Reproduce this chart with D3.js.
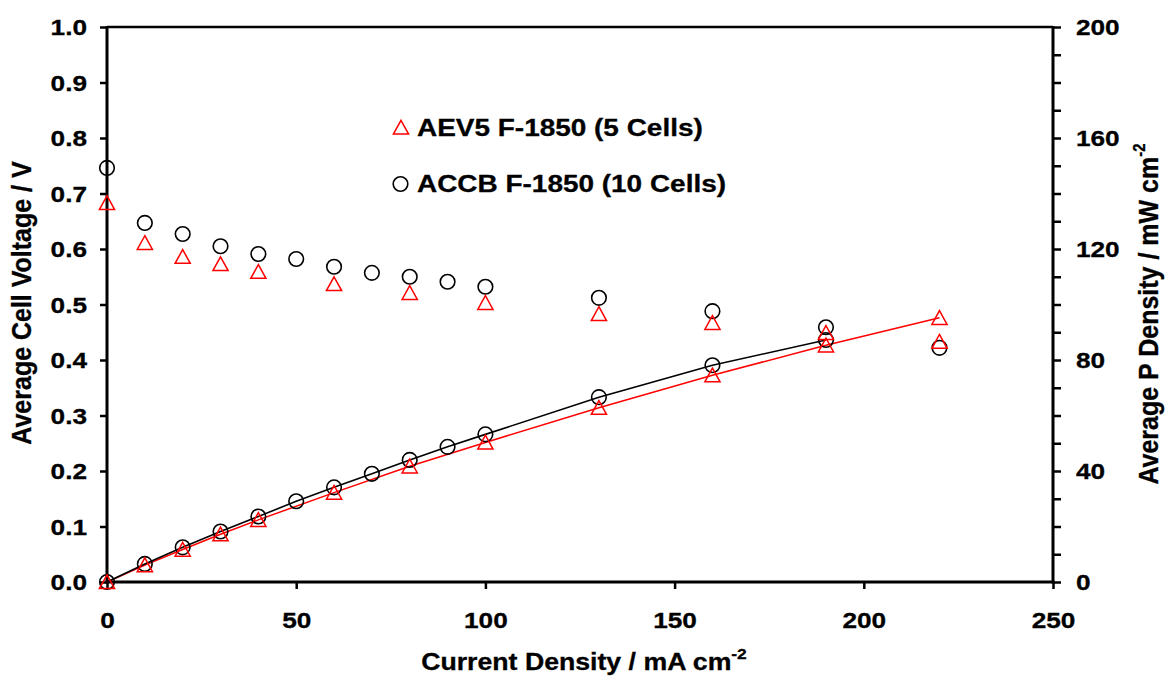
<!DOCTYPE html>
<html><head><meta charset="utf-8">
<script src="https://cdn.jsdelivr.net/npm/d3@7"></script>
<style>
body{margin:0;background:#fff;}
text{font-family:"Liberation Sans",Arial,sans-serif;font-weight:bold;fill:#000;}
</style></head>
<body><svg id="chart" width="1169" height="682"></svg>
<script>
// ---- data ----
const currentA = [0,10,20,30,40,60,80,100,130,160,190,220];
const voltA    = [0.683,0.611,0.586,0.573,0.559,0.537,0.521,0.503,0.483,0.467,0.449,0.433];
const powerA   = [0,6.1,11.7,17.2,22.4,32.2,41.7,50.3,62.8,74.5,85.3,95.2];
const currentB = [0,10,20,30,40,50,60,70,80,90,100,130,160,190,220];
const voltB    = [0.746,0.647,0.627,0.605,0.591,0.582,0.568,0.557,0.550,0.541,0.532,0.512,0.488,0.459,0.422];
const currentBP= [0,10,20,30,40,50,60,70,80,90,100,130,160,190];
const powerB   = [0,6.5,12.5,18.2,23.6,29.1,34.1,39.0,44.0,48.7,53.2,66.6,78.1,87.2];
const xTicks = [0,50,100,150,200,250];
const yTicks = [0,0.1,0.2,0.3,0.4,0.5,0.6,0.7,0.8,0.9,1.0];
const pTicks = d3.range(0,201,10);
const pLabels = [0,40,80,120,160,200];
const seriesNames = ["AEV5 F-1850 (5 Cells)","ACCB F-1850 (10 Cells)"];

const svg = d3.select("#chart");
svg.append("rect").attr("width",1169).attr("height",682).attr("fill","#fff");
const L=107,R=1053,T=27,B=582, SX=1.19;
const x = d3.scaleLinear([0,250],[L,R]);
const yV = d3.scaleLinear([0,1],[B,T]);
const yP = d3.scaleLinear([0,200],[B,T]);

function styleTicks(g){ g.select(".domain").remove(); g.selectAll(".tick line").attr("stroke","#000").attr("stroke-width",2.5);
  g.selectAll(".tick text").attr("font-size",22).attr("font-weight","bold").attr("font-family","Liberation Sans, Arial, sans-serif").attr("fill","#000").attr("stroke","#000").attr("stroke-width",0.3); }

// left axis
const gl = svg.append("g").attr("transform",`translate(${L},0)`)
  .call(d3.axisLeft(yV).tickValues(yTicks).tickSize(7).tickSizeOuter(0).tickFormat(d3.format(".1f")));
styleTicks(gl);
gl.selectAll(".tick text").attr("x",-20/SX).attr("dy","0.36em").attr("transform",`scale(${SX},1)`);

// bottom axis
const gb = svg.append("g").attr("transform",`translate(0,${B})`)
  .call(d3.axisBottom(x).tickValues(xTicks).tickSize(7).tickSizeOuter(0).tickFormat(d3.format("d")));
styleTicks(gb);
gb.selectAll(".tick text").attr("y",46).attr("dy",0).attr("transform",`scale(${SX},1)`);

// right axis
const gr = svg.append("g").attr("transform",`translate(${R},0)`)
  .call(d3.axisRight(yP).tickValues(pTicks).tickSize(8).tickSizeOuter(0).tickFormat(d=>pLabels.includes(d)?d:""));
styleTicks(gr);
gr.selectAll(".tick text").attr("x",23/SX).attr("dy","0.36em").attr("transform",`scale(${SX},1)`);

// frame lines
svg.append("line").attr("x1",L).attr("x2",L).attr("y1",T-1).attr("y2",B+1.5).attr("stroke","#000").attr("stroke-width",3);
svg.append("line").attr("x1",L-1.5).attr("x2",R+1.5).attr("y1",B).attr("y2",B).attr("stroke","#000").attr("stroke-width",3);
svg.append("line").attr("x1",L).attr("x2",R).attr("y1",T).attr("y2",T).attr("stroke","#000").attr("stroke-width",2.5);
svg.append("line").attr("x1",R).attr("x2",R).attr("y1",T-1).attr("y2",B+1.5).attr("stroke","#000").attr("stroke-width",3);

// power lines
const line = d3.line();
svg.append("path").attr("d",line(currentA.map((c,i)=>[x(c),yP(powerA[i])]))).attr("fill","none").attr("stroke","#ff0000").attr("stroke-width",1.5);
svg.append("path").attr("d",line(currentBP.map((c,i)=>[x(c),yP(powerB[i])]))).attr("fill","none").attr("stroke","#000").attr("stroke-width",1.6);

const tri = "M0,-7.2 L7.6,6.6 L-7.6,6.6 Z";
function circles(xs,ys,scale){
  svg.append("g").selectAll("circle").data(xs).join("circle")
   .attr("cx",d=>x(d)).attr("cy",(d,i)=>scale(ys[i])).attr("r",7.3)
   .attr("fill","none").attr("stroke","#000").attr("stroke-width",1.6);
}
function triangles(xs,ys,scale){
  svg.append("g").selectAll("path").data(xs).join("path")
   .attr("d",tri).attr("transform",(d,i)=>`translate(${x(d)},${scale(ys[i])})`)
   .attr("fill","none").attr("stroke","#ff0000").attr("stroke-width",1.5);
}
circles(currentB,voltB,yV);
circles(currentBP,powerB,yP);
triangles(currentA,voltA,yV);
triangles(currentA,powerA,yP);

// legend
svg.append("path").attr("d",tri).attr("transform","translate(401,127.5)").attr("fill","none").attr("stroke","#ff0000").attr("stroke-width",1.5);
svg.append("circle").attr("cx",400.5).attr("cy",184).attr("r",7.3).attr("fill","none").attr("stroke","#000").attr("stroke-width",1.6);
const lg = svg.append("g").attr("stroke","#000").attr("stroke-width",0.3);
lg.append("text").attr("transform",`translate(417,136) scale(1.2,1)`).attr("font-size",23.3).text(seriesNames[0]);
lg.append("text").attr("transform",`translate(417,192) scale(1.2,1)`).attr("font-size",23.3).text(seriesNames[1]);

// axis titles
const tg = svg.append("g").attr("stroke","#000").attr("stroke-width",0.3);
const xt = tg.append("text").attr("transform",`translate(584,670) scale(1.16,1)`).attr("text-anchor","middle").attr("font-size",23);
xt.append("tspan").text("Current Density / mA cm");
xt.append("tspan").attr("font-size",15).attr("dy",-11).text("-2");

tg.append("text").attr("transform","translate(31,303) scale(1.1,1) rotate(-90)").attr("text-anchor","middle").attr("font-size",25).text("Average Cell Voltage / V");

const rt = tg.append("text").attr("transform","translate(1158,314) scale(1.1,1) rotate(-90)").attr("text-anchor","middle").attr("font-size",25);
rt.append("tspan").text("Average P Density / mW cm");
rt.append("tspan").attr("font-size",15).attr("dy",-12).text("-2");
</script></body></html>
